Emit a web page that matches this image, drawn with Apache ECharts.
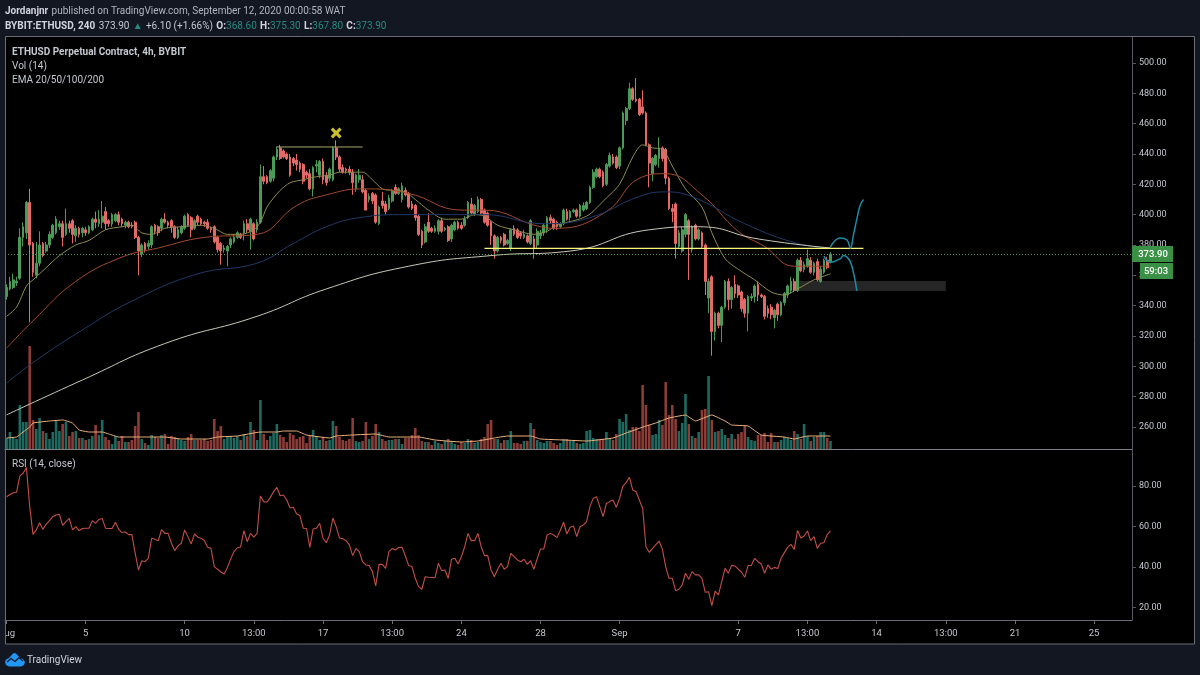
<!DOCTYPE html>
<html>
<head>
<meta charset="utf-8">
<style>html,body{margin:0;padding:0;background:#131722}#c{width:1200px;height:675px}</style>
<script src="https://cdn.jsdelivr.net/npm/echarts@6/dist/echarts.min.js"></script>
</head>
<body>
<div id="c"></div>
<script>
// ETHUSD 4h candles as [open, close, low, high], one list per stretch of the session
const candlesEarlyAug = [
[346,352,344,354],[351,356,350,359],[352,357,351,361],[355,356,353,359],[358,385,357,391],[385,392,379,395],[388,408,384,409],[408,380,329,417],[381,362,359,382],[360,368,358,382],
[368,380,366,389],[381,373,372,382],[376,380,375,382],[380,387,378,389],[385,393,384,394],[388,397,387,399],[392,394,390,396],[394,385,379,396],[387,394,386,404],[394,391,388,396],
[396,387,381,397],[386,391,382,393],[391,387,385,392],[388,391,385,392],[390,388,386,392],[388,392,387,393],[390,397,389,398],[397,395,391,402],[394,397,392,403],[395,399,391,409],
[402,394,390,405],[396,394,392,397],[394,400,392,401],[396,400,395,401],[400,395,393,402],[397,394,392,398],[393,395,391,396],[395,392,391,396],[393,392,391,395],[395,385,384,396],
[385,376,360,386],[374,380,372,381],[381,377,375,382],[379,381,377,383],[380,392,378,393],[393,389,387,394],[392,388,386,393],[391,397,389,398],[397,395,394,401],[395,393,391,396]
];
const candlesMidAug = [
[396,392,388,397],[392,385,384,393],[385,390,384,392],[388,392,387,393],[391,399,390,400],[400,393,392,401],[398,390,385,399],[391,396,390,397],[399,395,393,400],[397,394,393,398],
[395,394,392,396],[395,391,390,397],[391,390,388,392],[392,382,381,393],[385,377,375,386],[381,376,367,382],[377,378,375,380],[376,379,366,380],[380,384,378,385],[382,385,381,387],
[385,388,384,389],[387,385,384,388],[388,394,383,396],[394,390,388,397],[389,397,377,398],[394,384,383,395],[390,395,388,397],[395,425,394,433],[425,422,420,432],[425,421,420,426],
[422,429,421,430],[424,438,422,439],[438,443,436,445],[444,437,436,446],[442,438,437,443],[440,437,436,441],[438,426,425,440],[437,434,432,438],[436,433,429,440],[434,430,428,435],
[433,422,420,434],[428,426,424,429],[427,417,416,430],[417,431,412,432],[432,433,428,436],[426,435,424,436],[435,423,420,437],[426,421,419,428],[424,430,422,431],[423,444,422,445]
];
const candlesLateAug = [
[444,438,436,449],[438,430,428,439],[431,428,427,433],[430,429,427,431],[430,428,426,432],[428,421,413,430],[417,426,415,427],[423,426,421,430],[423,415,414,426],[416,403,403,417],
[410,412,408,414],[414,409,407,415],[413,395,394,414],[394,405,393,406],[409,406,404,415],[407,402,400,409],[404,411,403,413],[409,416,408,417],[418,414,413,420],[414,417,413,418],
[410,419,408,421],[416,413,412,418],[414,405,404,415],[407,404,403,409],[406,398,396,407],[399,387,386,400],[389,380,378,390],[382,392,381,394],[395,389,388,401],[391,389,388,392],
[389,391,388,393],[389,396,387,397],[396,389,388,398],[390,391,389,392],[392,383,382,393],[384,393,382,394],[390,395,389,396],[395,391,390,396],[393,391,390,395],[393,397,392,399],
[398,408,397,409],[407,401,400,411],[400,406,399,407],[402,410,401,412],[410,401,400,411],[403,395,394,404],[401,393,392,402],[395,386,380,396],[386,376,371,387],[376,385,375,386]
];
const candlesRally = [
[385,383,381,386],[387,380,379,388],[381,383,380,384],[378,390,376,391],[391,387,386,393],[390,385,384,391],[388,386,384,389],[385,387,384,390],[386,382,381,387],[381,396,380,397],
[384,378,371,386],[380,389,378,391],[386,388,384,390],[388,393,386,394],[390,398,388,399],[398,396,394,400],[397,391,390,398],[395,392,390,396],[392,394,391,395],[394,403,393,404],
[402,397,396,404],[398,402,396,403],[402,403,401,404],[403,399,398,404],[399,406,398,407],[403,406,402,408],[404,408,403,409],[408,418,407,419],[418,428,417,430],[425,430,424,431],
[430,425,424,431],[428,419,418,429],[420,433,419,434],[432,439,431,441],[438,434,433,440],[438,431,430,439],[432,444,430,445],[444,467,443,468],[462,470,459,471],[470,483,469,487],
[483,476,475,484],[476,475,474,490],[476,466,465,477],[471,467,466,482],[467,446,445,468],[446,434,418,447],[427,437,422,438],[433,439,432,440],[437,444,431,451],[444,437,435,445]
];
const candlesSeptember = [
[443,424,420,444],[424,404,403,425],[404,402,395,407],[407,381,371,408],[379,388,378,390],[376,390,375,392],[387,400,385,401],[396,387,357,397],[377,392,375,393],[393,384,383,394],
[384,390,383,391],[388,379,378,389],[380,356,347,381],[345,356,335,358],[359,323,307,360],[323,335,317,336],[335,327,325,336],[327,339,316,340],[339,356,338,357],[356,344,337,358],
[344,352,338,353],[354,348,345,360],[353,347,345,354],[349,338,336,350],[344,335,332,345],[335,346,323,347],[345,346,343,348],[346,353,342,354],[354,347,343,356],[347,346,345,348],
[346,333,331,347],[338,335,332,340],[339,334,331,341],[332,337,325,338],[341,334,330,342],[334,342,333,343],[342,348,340,349],[347,353,345,354],[350,356,348,359],[356,350,349,358],
[350,370,349,371],[370,363,362,372],[364,367,362,369],[366,371,365,377],[370,362,361,372],[362,368,360,369],[369,357,356,371],[356,364,355,366],[362,370,361,371],[370,365,364,372],
[368.6,373.9,367.8,375.3]
];

const volumes = [
11,17,11,10,44,27,27,103,29,20, 31,18,16,10,17,28,18,25,27,13, 17,18,11,11,9,10,13,24,14,29, 12,9,5,13,8,13,7,7,9,23,
37,10,6,4,14,12,11,14,15,5, 13,12,10,9,8,12,15,9,9,9, 10,8,9,30,18,23,10,13,13,11, 13,9,15,13,27,19,9,49,15,9,
13,16,25,14,12,7,16,14,10,12, 13,6,14,19,13,9,12,8,9,28, 23,12,9,8,10,31,8,7,8,27, 10,13,25,17,10,8,9,9,10,10,
5,11,11,14,21, 14,8,7,7,4,8,6,5,8,10, 8,5,4,7,6,10,9,6,7,10, 12,25,29,10,10,6,9,9,18,6, 6,5,8,8,26,20,9,7,6,8,
8,6,4,6,10,10,8,8,6,5, 6,18,19,11,10,10,10,17,11,9, 15,30,27,35,19,22,22,18,64,44, 24,14,15,29,24,67,34,44,30,18,
26,55,25,13,11,17,39,40,73,29, 17,18,20,14,11,15,10,15,17,23, 12,9,8,14,14,16,7,16,7,7, 9,12,11,9,18,15,10,25,13,8, 12,13,17,17,11,8
];
const volumeAverage = [
[0,11],[3,12],[5,17],[7,22],[8,26],[13,28],[17,29],[20,26],[22,19],[25,17],[29,17],[31,15],[34,12],[38,12],[42,12],[48,12],[53,10],[61,10],[64,12],[70,13],[77,17],[82,17],[84,18],[88,18],[91,14],[98,11],[100,13],[105,14],[112,15],[116,12],[123,12],
[125,12],[130,9],[138,7],[143,8],[148,11],[152,13],[159,13],[162,10],[169,9],[176,8],[184,11],[188,16],[194,23],[197,26],[201,31],[206,34],[209,28],[214,34],[218,28],[220,24],[225,23],[229,14],[236,12],[239,10],[243,13],[250,13]
];

const rsi = [
74.7,75.8,76.7,76.9,85,86.3,89.2,69.8,56.1,58.3, 61.9,58.6,61.2,62.9,64.9,65.7,66,60.6,62.4,64,
58.3,59.9,58,59,59.1,59.1,62.9,61.6,63.5,64, 59.1,59,59,62.1,58.6,57,57.3,56,56,46.8,
38.5,43.1,42.6,44.3,54.2,53.7,52.9,58.4,56.6,56.6, 51.7,48.1,50.4,51.7,58.3,55,51.4,56.3,54.7,54.2,
53,49.7,49.2,40.2,38.9,37.5,36.5,39.8,44,47.6, 49.5,49.9,58,52.5,56.6,54.7,56.6,75.1,72.3,72,
74.4,77.2,79.3,75.2,75.6,73.1,69.1,69.5,66.2,65.4, 59.1,59,49.7,58.8,59.1,61.6,54.2,52,55.8,64.2,
59.9,54.3,54,53,50.9,45.6,49.2,47.6,42.6,41, 40.7,37.7,30.6,41.3,41.3,39.3,47.6,49.1,48.4,49.7,
49.7,45.4,40.7,40.2,34.4,30.3,29,35.2,34.9,34.8, 34.7,41.8,38.2,38.5,34.4,43.8,44.3,41.5,45.1,50,
56.6,53,53,56.6,50,45.6,45.6,38.5,35.2,38.9, 41.8,38.9,40.2,46.7,45.1,43.5,42.6,43.8,41.3,43.1,
38.9,44,48.9,48.9,55.8,56.6,55.8,54.5,58,62.1, 56.3,59.6,60.3,55,59.9,60.7,62.4,69.8,73.9,74.7,
69.8,64.9,71.4,72.3,73.1,69.5,73.9,80,81.7,84.3, 78,77.2,73.1,69,50,47.2,49.2,51,52.8,48.7,
40.2,34.4,34.4,28.3,29,31.1,36.9,33.9,37.7,36.1, 36.1,34.4,27.5,27.8,20.9,28.1,26.2,32.8,39.3,36.9,
40.8,40.5,38.9,37.4,34.9,40.7,40.8,44.3,42.6,41.5, 36.9,41,38.9,39.8,39.2,44.3,47.1,49.7,51.2,48.7,
58,54.3,55.3,57.8,53,55,49.2,51.7,52,56,57.8
];

// moving averages: [candle index, price] samples along each curve
const ema20 = [[0,333],[3,339],[6,353],[8,357],[11,363],[16,373],[21,380],[25,383],[30,390],[35,392],[38,393],[41,388],[44,387],[48,391],[53,392],[59,393],[63,391],[67,387],[71,387],[75,390],[77,395],[79,405],[81,411],[83,416],[86,421],[90,423],[94,425],[98,426],[101,428],[105,428],[108,428],[111,423],[114,417],[117,416],[121,415],[124,410],[128,403],[133,397],[138,397],[142,400],[145,399],[149,393],[154,390],[160,387],[164,389],[167,393],[176,399],[182,411],[186,420],[190,438],[193,446],[196,444],[199,443],[202,432],[206,417],[211,405],[214,388],[218,371],[222,364],[227,357],[232,349],[236,347],[240,351],[245,357],[250,361]];
const ema50 = [[0,312],[8,330],[21,356],[35,372],[46,378],[60,385],[76,387],[88,406],[97,413],[108,417],[122,414],[138,403],[145,403],[162,392],[167,391],[182,402],[192,424],[200,427],[211,413],[222,389],[230,379],[239,366],[250,366]];
const ema100 = [[0,289],[9,304],[23,324],[38,343],[58,361],[76,368],[87,381],[97,392],[107,398],[121,400],[145,400],[163,394],[177,398],[192,412],[200,415],[209,411],[224,394],[240,381],[250,378]];
const ema200 = [[0,268],[23,291],[48,315],[76,333],[97,351],[122,366],[147,373],[171,376],[195,390],[210,392],[228,384],[250,378]];

// hand-drawn annotations: [candle index, price]
const resistanceLine = [[145,377.7],[260,377.7]];
const doubleTopLine = [[82,444.6],[108,444.6]];
const crossMarker = [[100,453.8]];
const supportZone = { fromIndex: 240, toIndex: 285, top: 356.3, bottom: 349.7 };
const pathBreakout = [[250,378.7],[253,384.6],[255,383.3],[256,378],[257,387],[258,397],[259,406],[260,410]];
const pathRejection = [[248,372.7],[250,368.7],[251,369],[253,371],[254,373],[255,372],[256,369],[257,361.5],[258,349.7]];

const lastPrice = 373.9;
const priceTicks = [260,280,300,320,340,360,380,400,420,440,460,480,500];
const rsiTicks = [20,40,60,80];
const timeLabels = {0:'Aug',24:'5',54:'10',75:'13:00',96:'17',117:'13:00',138:'24',162:'28',186:'Sep',222:'7',243:'13:00',264:'14',285:'13:00',306:'21',330:'25'};
const slotCount = 342;

const candles = [].concat(candlesEarlyAug, candlesMidAug, candlesLateAug, candlesRally, candlesSeptember);
const slots = Array.from({length: slotCount}, (_, i) => timeLabels[i] || '');
const isLabelled = (i, v) => v !== '';

const UP = '#4c9a57', DOWN = '#e26a68', VOL_UP = '#1d6b60', VOL_DOWN = '#8c3c37';
const FONT = 'Roboto, "Open Sans", sans-serif';
const TXT = '#c4c7cf';

const volumeBars = volumes.map((v, i) => ({
  value: v,
  itemStyle: { color: candles[i][1] >= candles[i][0] ? VOL_UP : VOL_DOWN }
}));

function curve(data, color, width, extra) {
  return Object.assign({ type: 'line', data, showSymbol: false, symbol: 'none', smooth: 0.3, silent: true,
    lineStyle: { color, width }, z: 4 }, extra || {});
}
function label(text, x, y, font, fill) {
  return { type: 'text', z: 70, silent: true, style: { text, x, y, font: font, fill: fill || TXT, textVerticalAlign: 'middle' } };
}

const option = {
  backgroundColor: '#131722',
  animation: false,
  textStyle: { fontFamily: FONT },
  grid: [
    { left: 5, top: 37, width: 1127, height: 412, containLabel: false, outerBoundsMode: 'none' },
    { left: 5, top: 450, width: 1127, height: 170, containLabel: false, outerBoundsMode: 'none' }
  ],
  xAxis: [
    { type: 'category', gridIndex: 0, data: slots, boundaryGap: true,
      axisLine: { show: true, lineStyle: { color: '#7d8087', width: 1 } },
      axisTick: { show: false }, axisLabel: { show: false }, splitLine: { show: false } },
    { type: 'category', gridIndex: 1, data: slots, boundaryGap: true,
      axisLine: { show: true, lineStyle: { color: '#6b6e76', width: 1 } },
      axisTick: { show: true, alignWithLabel: true, interval: isLabelled, length: 4, lineStyle: { color: '#6b6e76' } },
      axisLabel: { show: true, interval: isLabelled, color: TXT, fontSize: 9.5, fontFamily: FONT, margin: 9 },
      splitLine: { show: false } }
  ],
  yAxis: [
    { type: 'value', gridIndex: 0, position: 'right', min: 245.5, max: 517.1, scale: true,
      axisLine: { show: true, lineStyle: { color: '#55585f' } },
      axisTick: { show: true, length: 4, customValues: priceTicks, lineStyle: { color: '#55585f' } },
      axisLabel: { show: true, customValues: priceTicks, color: TXT, fontSize: 9, fontFamily: FONT, margin: 7, padding: [4, 0, 0, 0], formatter: v => v.toFixed(2) },
      splitLine: { show: false } },
    { type: 'value', gridIndex: 0, min: 0, max: 412, show: false, splitLine: { show: false } },
    { type: 'value', gridIndex: 1, position: 'right', min: 13.8, max: 97.8, scale: true,
      axisLine: { show: true, lineStyle: { color: '#55585f' } },
      axisTick: { show: true, length: 4, customValues: rsiTicks, lineStyle: { color: '#55585f' } },
      axisLabel: { show: true, customValues: rsiTicks, color: TXT, fontSize: 9, fontFamily: FONT, margin: 7, padding: [4, 0, 0, 0], formatter: v => v.toFixed(2) },
      splitLine: { show: false } }
  ],
  series: [
    { type: 'line', xAxisIndex: 0, yAxisIndex: 0, data: [], silent: true, z: 1,
      markArea: { silent: true, itemStyle: { color: '#262626' },
        data: [[{ coord: [supportZone.fromIndex, supportZone.top] }, { coord: [supportZone.toIndex, supportZone.bottom] }]] } },
    { type: 'bar', xAxisIndex: 0, yAxisIndex: 1, data: volumeBars, barWidth: 2.6, silent: true, z: 2 },
    curve(volumeAverage, '#eeb27c', 1, { yAxisIndex: 1, z: 3, smooth: 0.1 }),
    { type: 'candlestick', xAxisIndex: 0, yAxisIndex: 0, data: candles, barWidth: 2.2, silent: true, z: 3,
      itemStyle: { color: UP, color0: DOWN, borderColor: UP, borderColor0: DOWN, borderWidth: 1 },
      markLine: { silent: true, symbol: 'none', animation: false, label: { show: false },
        lineStyle: { color: '#4f9a5c', type: [1, 2], width: 1 }, data: [{ yAxis: lastPrice }] } },
    curve(ema20, '#8d8c4d', 1),
    curve(ema50, '#a44a2c', 1, { smooth: 0.45 }),
    curve(ema100, '#213a68', 1, { smooth: 0.45 }),
    curve(ema200, '#c9c8b8', 1, { smooth: 0.5 }),
    curve(resistanceLine, '#fbf87a', 1.2, { smooth: false, z: 5 }),
    curve(doubleTopLine, '#a9a868', 1, { smooth: false, z: 5 }),
    { type: 'scatter', data: crossMarker, symbol: 'path://M2 0L5 3L8 0L10 2L7 5L10 8L8 10L5 7L2 10L0 8L3 5L0 2Z', symbolSize: 11,
      itemStyle: { color: '#ffec3d' }, silent: true, z: 6 },
    curve(pathBreakout, '#1d8aa3', 1.5, { smooth: 0.5, z: 6 }),
    curve(pathRejection, '#1d8aa3', 1.5, { smooth: 0.5, z: 6 }),
    { type: 'line', xAxisIndex: 1, yAxisIndex: 2, data: rsi, symbol: 'none', showSymbol: false, silent: true,
      lineStyle: { color: '#c24f48', width: 1.1 } }
  ],
  graphic: { elements: [
    // chart panel behind the panes
    { type: 'rect', z: -10, silent: true, shape: { x: 5.5, y: 36.5, width: 1189, height: 607.5 }, style: { fill: '#000' } },
    // outer strip clipping the first time label
    { type: 'rect', z: 50, silent: true, shape: { x: 0, y: 621, width: 5.5, height: 30 }, style: { fill: '#131722' } },
    { type: 'rect', z: 51, silent: true, shape: { x: 5.5, y: 36.5, width: 1189, height: 607.5 }, style: { fill: 'none', stroke: '#6a6d75', lineWidth: 1 } },
    // header
    { type: 'text', z: 70, silent: true, style: {
        text: '{b|Jordanjnr} {n|published on TradingView.com, September 12, 2020 00:00:58 WAT}',
        x: 5, y: 11, textVerticalAlign: 'middle',
        rich: { b: { font: 'bold 10px ' + FONT, fill: '#d1d4dc' }, n: { font: '10px ' + FONT, fill: '#b2b5be' } } } },
    { type: 'text', z: 70, silent: true, style: {
        text: '{b|BYBIT:ETHUSD, 240} {n|373.90} {t|\u25B2} {n|+6.10 (+1.66%)} {b|O:}{t|368.60} {b|H:}{t|375.30} {b|L:}{t|367.80} {b|C:}{t|373.90}',
        x: 5, y: 26, textVerticalAlign: 'middle',
        rich: { b: { font: 'bold 10px ' + FONT, fill: '#d1d4dc' }, n: { font: '10px ' + FONT, fill: '#c4c7cf' }, t: { font: '10px ' + FONT, fill: '#268a80' } } } },
    // pane legends
    label('ETHUSD Perpetual Contract, 4h, BYBIT', 12, 52, 'bold 10px ' + FONT, '#c4c7cf'),
    label('Vol (14)', 12, 66, '10px ' + FONT),
    label('EMA 20/50/100/200', 12, 80, '10px ' + FONT),
    label('RSI (14, close)', 12, 464, '10px ' + FONT),
    // last price and countdown tags
    { type: 'rect', z: 60, silent: true, shape: { x: 1132, y: 246, width: 41, height: 16 }, style: { fill: '#3a9146' } },
    { type: 'rect', z: 60, silent: true, shape: { x: 1140, y: 263, width: 33, height: 16 }, style: { fill: '#3a9146' } },
    { type: 'text', z: 70, silent: true, style: { text: '373.90', x: 1153, y: 255, font: '500 9.5px ' + FONT, fill: '#fff', textAlign: 'center', textVerticalAlign: 'middle' } },
    { type: 'text', z: 70, silent: true, style: { text: '59:03', x: 1156, y: 272, font: '500 9.5px ' + FONT, fill: '#fff', textAlign: 'center', textVerticalAlign: 'middle' } },
    // footer brand
    { type: 'polygon', z: 70, silent: true, shape: { points: [[5,662],[6,659.5],[9,658],[13,653.5],[15,653],[16.5,654],[20,658],[23,659],[25,662],[24,665],[21,666.5],[9,666.5],[6,665]] }, style: { fill: '#2196f3' } },
    { type: 'polyline', z: 71, silent: true, shape: { points: [[7,662],[11,658.5],[15,661.5],[19,657.5],[23,661]] }, style: { fill: 'none', stroke: '#131722', lineWidth: 1.2 } },
    label('TradingView', 27, 660, '10px ' + FONT, '#d1d4dc')
  ] }
};

const chart = echarts.init(document.getElementById('c'), null, { renderer: 'canvas', width: 1200, height: 675 });
chart.setOption(option);
</script>
</body>
</html>
